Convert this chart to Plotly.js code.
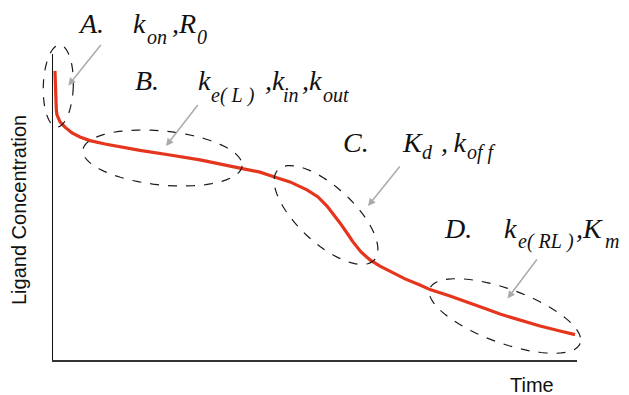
<!DOCTYPE html>
<html>
<head>
<meta charset="utf-8">
<script src="https://cdn.plot.ly/plotly-3.0.1.min.js"></script>
<style>html,body{margin:0;padding:0;background:#fff;}#chart{width:629px;height:395px;}</style>
</head>
<body>
<div id="chart"></div>
<script>
// ---- data (schematic time course, arbitrary units 0-100) ----
const time = [0.38,0.44,0.50,0.63,0.76,1.34,2.29,3.63,5.15,7.06,9.92,12.79,16.60,22.33,28.05,35.69,39.50,41.98,45.23,48.47,50.57,52.29,53.63,54.77,56.11,57.25,58.78,60.50,62.40,64.89,67.18,70.04,71.95,75.76,79.01,82.44,85.31,89.12,92.94,96.76,99.62];
const concentration = [94.5,89.9,85.0,81.7,80.1,77.8,76.1,74.2,72.9,71.7,70.6,69.6,68.5,67.0,65.4,62.7,61.4,60.0,58.2,55.6,53.3,50.3,47.4,44.8,41.5,38.6,35.3,32.7,30.7,28.4,26.5,24.5,23.0,20.9,19.0,16.8,15.0,13.1,11.1,9.5,8.3];
const phaseLetters = ["A.","B.","C.","D."];
// each phase: list of [symbol, subscript] pairs
const phaseParams = [
  [["k","on"],["R","0"]],
  [["k","e(&#160;L&#160;)"],["k","in"],["k","out"]],
  [["K","d"],["k","of&#160;f"]],
  [["k","e(&#160;RL&#160;)"],["K","m"]]
];
const xTitle = "Time";
const yTitle = "Ligand Concentration";

// ---- layout geometry (pixels) ----
const W = 629, H = 395;
const M = {l:53, r:52, t:54, b:35};
const PW = W - M.l - M.r, PH = H - M.t - M.b;
const px2paperX = px => (px - M.l) / PW;
const px2paperY = py => (H - M.b - py) / PH;

// highlighted regions: center, semi-axes (px), rotation (deg, clockwise on screen)
const regions = [
  {cx:58.3, cy:86,  a:15, b:41, rot:2},
  {cx:162.5,cy:158, a:80, b:27, rot:5.7},
  {cx:326,  cy:215, a:66, b:28, rot:43},
  {cx:505,  cy:316, a:80, b:27, rot:20}
];
// arrows: head and tail (px)
const arrows = [
  {hx:68.3, hy:85.5, tx:102, ty:43.5},
  {hx:166,  hy:146,  tx:199, ty:103.5},
  {hx:368,  hy:206,  tx:401, ty:165},
  {hx:507.5,hy:298.5,tx:538, ty:258}
];
// label placement (px): letter left, baseline, token lefts (symbol, sub, [comma+symbol, sub]...), sub baseline
const labelPos = [
  {lx:78, base:33,  tok:[133,147,172,197], subBase:44,  sep:""},
  {lx:135,base:90,  tok:[198,211,265,283,302,323], subBase:102, sep:""},
  {lx:343,base:152, tok:[402,422,441,467], subBase:159, sep:"&#8201;"},
  {lx:444,base:238, tok:[504,518,576,605], subBase:248, sep:""}
];
const MAIN = 28, SUB = 20, PADX = 2;

function ellipsePath(e){
  const n = 72, th = e.rot*Math.PI/180;
  let d = "";
  for(let i=0;i<=n;i++){
    const t = 2*Math.PI*i/n;
    const x = e.a*Math.cos(t), y = e.b*Math.sin(t);
    const px = e.cx + x*Math.cos(th) - y*Math.sin(th);
    const py = e.cy + x*Math.sin(th) + y*Math.cos(th);
    d += (i===0?"M":"L") + px2paperX(px).toFixed(5) + "," + px2paperY(py).toFixed(5);
  }
  return d + "Z";
}

const shapes = regions.map(e => ({
  type:"path", xref:"paper", yref:"paper", path: ellipsePath(e),
  line:{color:"#1a1a1a", width:1.2, dash:"dash"}, fillcolor:"rgba(0,0,0,0)"
}));

const serif = "Liberation Serif, Times New Roman, serif";
const sans = "Liberation Sans, Arial, sans-serif";
const annotations = [];
arrows.forEach(a => annotations.push({
  xref:"paper", yref:"paper", x:px2paperX(a.hx), y:px2paperY(a.hy),
  ax:a.tx-a.hx, ay:a.ty-a.hy, axref:"pixel", ayref:"pixel",
  text:"", showarrow:true, arrowhead:2, arrowsize:1, arrowwidth:1.5, arrowcolor:"#ababab"
}));
function textAt(txt, left, baseline, size){
  annotations.push({xref:"paper", yref:"paper",
    x:px2paperX(left-PADX), y:px2paperY(baseline - 0.3375*size),
    xanchor:"left", yanchor:"middle", showarrow:false, text:"<i>"+txt+"</i>",
    font:{family:serif, size:size, color:"#111"}});
}
phaseLetters.forEach((L,i) => {
  const p = labelPos[i];
  textAt(L, p.lx, p.base, MAIN);
  let k = 0;
  phaseParams[i].forEach((pair, j) => {
    const sym = j > 0 ? "," + p.sep + pair[0] : pair[0];
    textAt(sym, p.tok[k++], p.base, MAIN);
    textAt(pair[1], p.tok[k++], p.subBase, SUB);
  });
});
annotations.push({xref:"paper", yref:"paper", x:px2paperX(532), y:px2paperY(385),
  xanchor:"center", yanchor:"middle", showarrow:false, text:xTitle,
  font:{family:sans, size:20, color:"#111"}});
annotations.push({xref:"paper", yref:"paper", x:px2paperX(19), y:px2paperY(210),
  xanchor:"center", yanchor:"middle", showarrow:false, text:yTitle, textangle:-90,
  font:{family:sans, size:20, color:"#111"}});

const trace = {
  x: time, y: concentration, type:"scatter", mode:"lines",
  line:{color:"#e5361d", width:3.2}, hoverinfo:"skip"
};

const layout = {
  width:W, height:H, margin:M, showlegend:false,
  paper_bgcolor:"#fff", plot_bgcolor:"#fff",
  xaxis:{range:[0,100], showline:true, linecolor:"#333", linewidth:1.5, showgrid:false,
         zeroline:false, showticklabels:false, ticks:"", fixedrange:true},
  yaxis:{range:[0,100], showline:true, linecolor:"#111", linewidth:1.5, showgrid:false,
         zeroline:false, showticklabels:false, ticks:"", fixedrange:true},
  shapes: shapes, annotations: annotations
};

Plotly.newPlot("chart", [trace], layout, {displayModeBar:false, staticPlot:true});
</script>
</body>
</html>
